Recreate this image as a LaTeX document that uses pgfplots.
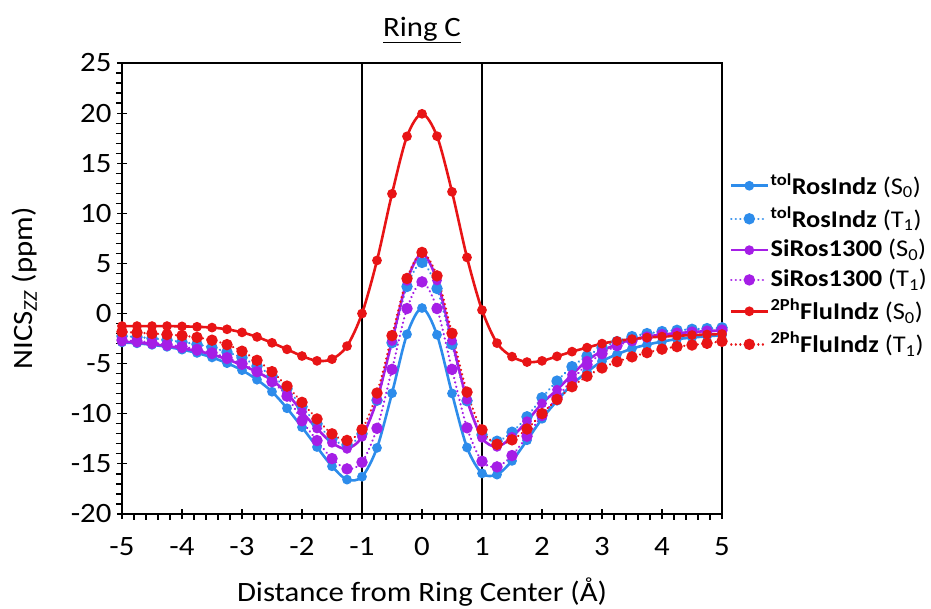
\documentclass[border=0pt]{standalone}
\usepackage{fontspec}
\setmainfont{Carlito}[FakeStretch=1.1]
\usepackage{pgfplots}
\pgfplotsset{compat=1.18}
\definecolor{cblue}{RGB}{45,140,235}
\definecolor{cpurple}{RGB}{165,30,230}
\definecolor{cred}{RGB}{232,20,22}
\pgfplotsset{
  solidser/.style={smooth, line width=2.6pt, mark=*, mark size=3.5pt, mark options={solid}},
  dotser/.style={smooth, line width=2.5pt, dash pattern=on 0.01pt off 4.5pt, line cap=round, mark=*, mark size=4.4pt, mark options={solid}},
}
\begin{document}
\fontsize{28}{33}\selectfont
\begin{tikzpicture}
\begin{axis}[
  scale only axis, width=600pt, height=451pt,
  at={(0,0)}, anchor=south west,
  xmin=-5, xmax=5, ymin=-20, ymax=25,
  xtick={-5,-4,...,5}, ytick={-20,-15,...,25},
  minor x tick num=4, minor y tick num=4,
  tick pos=left, tick align=outside,
  major tick length=10pt, minor tick length=6pt,
  every major x tick/.append style={yshift=5pt},
  every major y tick/.append style={xshift=5pt},
  every tick/.append style={black, line width=1.2pt},
  axis line style={line width=1.3pt},
  /pgf/number format/assume math mode=true,
  ticklabel style={font=\fontsize{28}{33}\selectfont},
  xticklabel style={yshift=-4pt},
  yticklabel style={xshift=9pt},
  xlabel={Distance from Ring Center (Å)},
  ylabel={NICS\textsubscript{\textit{ZZ}} (ppm)},
  label style={font=\fontsize{28}{33}\selectfont},
  xlabel style={at={(axis description cs:0.5,-0.174)}, anchor=center},
  ylabel style={at={(axis description cs:-0.162,0.5)}, anchor=center},
  title={\underline{Ring C}},
  title style={at={(axis description cs:0.5,1)}, anchor=center, yshift=27pt, font=\fontsize{28}{33}\selectfont},
  legend style={at={(1.008,0.552)}, anchor=west, draw=none, fill=none, row sep=4pt, font=\fontsize{24}{28}\selectfont},
  legend cell align=left,
  legend image code/.code={\draw[mark repeat=2, mark phase=2] plot coordinates {(0pt,0pt) (18pt,0pt) (36pt,0pt)};},
]
\addplot[forget plot, black, line width=1.3pt] coordinates {(-1,-20) (-1,25)};
\addplot[forget plot, black, line width=1.3pt] coordinates {(1,-20) (1,25)};

% tolRosIndz S0
\addplot[cblue, solidser] coordinates {
(-5,-2.88) (-4.75,-2.97) (-4.5,-3.12) (-4.25,-3.32) (-4,-3.6) (-3.75,-3.93) (-3.5,-4.38) (-3.25,-4.95) (-3,-5.65) (-2.75,-6.6) (-2.5,-7.8) (-2.25,-9.45) (-2,-11.34) (-1.75,-13.32) (-1.5,-15.24) (-1.25,-16.57) (-1,-16.28) (-0.75,-13.4) (-0.5,-7.95) (-0.25,-2.07) (0,0.55) (0.25,-2.12) (0.5,-7.97) (0.75,-13.36) (1,-15.95) (1.25,-16.07) (1.5,-14.7) (1.75,-12.64) (2,-10.5) (2.25,-8.7) (2.5,-7.07) (2.75,-5.84) (3,-4.75) (3.25,-4.07) (3.5,-3.5) (3.75,-3.1) (4,-2.8) (4.25,-2.55) (4.5,-2.4) (4.75,-2.27) (5,-2.16)};
\addlegendentry{\textbf{\textsuperscript{tol}RosIndz} (S\textsubscript{0})}
% tolRosIndz T1
\addplot[cblue, dotser] coordinates {
(-5,-2.25) (-4.75,-2.34) (-4.5,-2.47) (-4.25,-2.64) (-4,-2.84) (-3.75,-3.07) (-3.5,-3.4) (-3.25,-3.84) (-3,-4.4) (-2.75,-5.24) (-2.5,-6.2) (-2.25,-7.5) (-2,-9.3) (-1.75,-11.0) (-1.5,-12.5) (-1.25,-13.1) (-1,-12.0) (-0.75,-8.65) (-0.5,-2.9) (-0.25,2.7) (0,5.1) (0.25,2.5) (0.5,-3.07) (0.75,-8.7) (1,-12.1) (1.25,-12.74) (1.5,-11.84) (1.75,-10.3) (2,-8.4) (2.25,-6.74) (2.5,-5.3) (2.75,-4.24) (3,-3.4) (3.25,-2.8) (3.5,-2.3) (3.75,-2.0) (4,-1.8) (4.25,-1.67) (4.5,-1.57) (4.75,-1.5) (5,-1.42)};
\addlegendentry{\textbf{\textsuperscript{tol}RosIndz} (T\textsubscript{1})}
% SiRos1300 S0
\addplot[cpurple, solidser] coordinates {
(-5,-2.8) (-4.75,-2.9) (-4.5,-3.05) (-4.25,-3.24) (-4,-3.47) (-3.75,-3.74) (-3.5,-4.07) (-3.25,-4.57) (-3,-5.14) (-2.75,-5.84) (-2.5,-6.65) (-2.25,-7.95) (-2,-9.8) (-1.75,-11.47) (-1.5,-12.9) (-1.25,-13.5) (-1,-12.3) (-0.75,-8.6) (-0.5,-2.74) (-0.25,3.26) (0,6.0) (0.25,3.3) (0.5,-2.7) (0.75,-8.6) (1,-12.4) (1.25,-13.3) (1.5,-12.3) (1.75,-10.74) (2,-8.97) (2.25,-7.6) (2.5,-6.1) (2.75,-4.7) (3,-3.74) (3.25,-3.05) (3.5,-2.6) (3.75,-2.3) (4,-2.1) (4.25,-1.95) (4.5,-1.85) (4.75,-1.75) (5,-1.68)};
\addlegendentry{\textbf{SiRos1300} (S\textsubscript{0})}
% SiRos1300 T1
\addplot[cpurple, dotser] coordinates {
(-5,-2.65) (-4.75,-2.75) (-4.5,-2.9) (-4.25,-3.08) (-4,-3.3) (-3.75,-3.57) (-3.5,-3.92) (-3.25,-4.4) (-3,-5.0) (-2.75,-5.8) (-2.5,-6.8) (-2.25,-8.24) (-2,-10.7) (-1.75,-12.67) (-1.5,-14.47) (-1.25,-15.5) (-1,-14.84) (-0.75,-11.45) (-0.5,-5.57) (-0.25,0.5) (0,3.16) (0.25,0.5) (0.5,-5.57) (0.75,-11.4) (1,-14.74) (1.25,-15.3) (1.5,-14.17) (1.75,-12.24) (2,-10.17) (2.25,-8.4) (2.5,-6.6) (2.75,-5.1) (3,-4.0) (3.25,-3.2) (3.5,-2.7) (3.75,-2.35) (4,-2.1) (4.25,-1.95) (4.5,-1.85) (4.75,-1.75) (5,-1.65)};
\addlegendentry{\textbf{SiRos1300} (T\textsubscript{1})}
% 2PhFluIndz S0
\addplot[cred, solidser] coordinates {
(-5,-1.25) (-4.75,-1.25) (-4.5,-1.25) (-4.25,-1.25) (-4,-1.28) (-3.75,-1.32) (-3.5,-1.4) (-3.25,-1.57) (-3,-1.88) (-2.75,-2.33) (-2.5,-2.92) (-2.25,-3.57) (-2,-4.24) (-1.75,-4.72) (-1.5,-4.55) (-1.25,-3.25) (-1,0.0) (-0.75,5.3) (-0.5,11.95) (-0.25,17.68) (0,19.93) (0.25,17.7) (0.5,12.15) (0.75,5.6) (1,0.35) (1.25,-2.95) (1.5,-4.3) (1.75,-4.84) (2,-4.72) (2.25,-4.27) (2.5,-3.8) (2.75,-3.4) (3,-3.0) (3.25,-2.74) (3.5,-2.55) (3.75,-2.4) (4,-2.3) (4.25,-2.22) (4.5,-2.15) (4.75,-2.09) (5,-2.04)};
\addlegendentry{\textbf{\textsuperscript{2Ph}FluIndz} (S\textsubscript{0})}
% 2PhFluIndz T1
\addplot[cred, dotser] coordinates {
(-5,-1.82) (-4.75,-1.9) (-4.5,-1.99) (-4.25,-2.1) (-4,-2.2) (-3.75,-2.38) (-3.5,-2.66) (-3.25,-3.1) (-3,-3.76) (-2.75,-4.67) (-2.5,-5.8) (-2.25,-7.24) (-2,-8.86) (-1.75,-10.52) (-1.5,-12.0) (-1.25,-12.66) (-1,-11.58) (-0.75,-7.93) (-0.5,-2.2) (-0.25,3.5) (0,6.1) (0.25,3.76) (0.5,-1.97) (0.75,-7.84) (1,-11.6) (1.25,-13.05) (1.5,-12.6) (1.75,-11.52) (2,-9.98) (2.25,-8.57) (2.5,-7.3) (2.75,-6.25) (3,-5.43) (3.25,-4.8) (3.5,-4.32) (3.75,-3.9) (4,-3.55) (4.25,-3.3) (4.5,-3.14) (4.75,-2.97) (5,-2.77)};
\addlegendentry{\textbf{\textsuperscript{2Ph}FluIndz} (T\textsubscript{1})}
\end{axis}
\pgfresetboundingbox
\path (-122pt,-95pt) rectangle (809pt,514pt);
\end{tikzpicture}
\end{document}
